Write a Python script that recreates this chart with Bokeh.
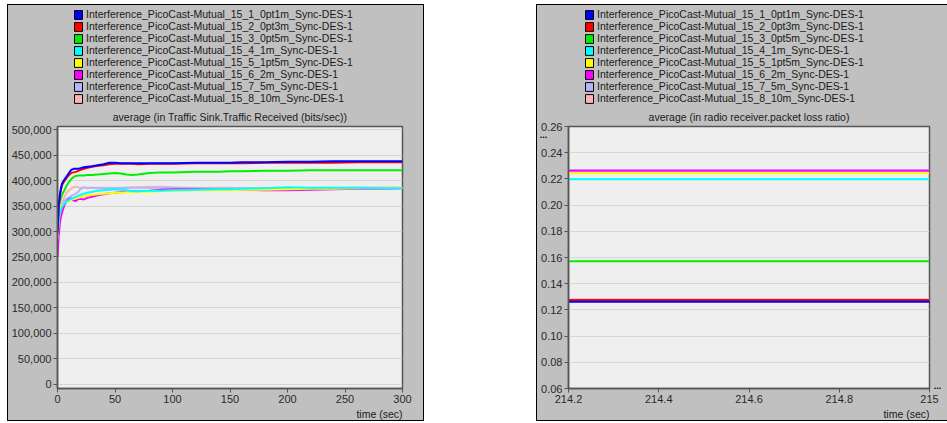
from bokeh.plotting import figure
from bokeh.models import (Range1d, FixedTicker, NumeralTickFormatter, Legend, LegendItem,
                          Title, ColumnDataSource, Spacer, Label)
from bokeh.layouts import row, column
from bokeh.embed import file_html
from bokeh.resources import INLINE

FONT = "Liberation Sans"

series_names = [
    "Interference_PicoCast-Mutual_15_1_0pt1m_Sync-DES-1",
    "Interference_PicoCast-Mutual_15_2_0pt3m_Sync-DES-1",
    "Interference_PicoCast-Mutual_15_3_0pt5m_Sync-DES-1",
    "Interference_PicoCast-Mutual_15_4_1m_Sync-DES-1",
    "Interference_PicoCast-Mutual_15_5_1pt5m_Sync-DES-1",
    "Interference_PicoCast-Mutual_15_6_2m_Sync-DES-1",
    "Interference_PicoCast-Mutual_15_7_5m_Sync-DES-1",
    "Interference_PicoCast-Mutual_15_8_10m_Sync-DES-1",
]
series_colors = ["#0000ff", "#ff0000", "#00ee00", "#00ffff",
                 "#ffff00", "#ff00ff", "#b4b4ff", "#ffb4b4"]

# ---- left chart: Traffic Received (kbit/s) ----
time_sec = [0, 1, 2, 3, 4, 6, 8, 10, 12, 14, 16, 18, 20, 23, 26, 30, 35, 40, 45, 50,
            55, 60, 65, 70, 80, 90, 100, 120, 140, 150, 160, 180, 200, 220, 240, 260, 280, 300]
recv_1 = [300, 350, 372, 385, 394, 402, 408, 415, 421, 423, 423, 423, 424, 426, 427, 428, 430, 432, 435, 435,
          434, 434, 434, 434, 434, 434, 434, 435, 435, 435, 436, 436, 437, 437, 438, 438, 438, 438]
recv_2 = [295, 345, 368, 382, 391, 399, 405, 411, 415, 416, 417, 419, 421, 423, 425, 427, 429, 430, 432, 433,
          433, 433, 433, 432, 433, 433, 433, 434, 434, 434, 434, 435, 435, 435, 435, 436, 436, 436]
recv_3 = [340, 350, 358, 365, 372, 381, 390, 397, 403, 407, 409, 410, 410, 410, 411, 411, 412, 413, 414, 415,
          414, 412, 411, 412, 415, 416, 416, 417, 417, 418, 418, 419, 419, 420, 420, 420, 420, 420]
recv_4 = [290, 318, 335, 343, 349, 355, 359, 362, 364, 366, 368, 370, 372, 374, 376, 378, 380, 381, 382, 383,
          382, 381, 379, 379, 380, 380, 381, 382, 383, 383, 384, 385, 387, 386, 386, 386, 385, 385]
recv_5 = [285, 320, 340, 348, 352, 356, 358, 360, 362, 364, 365, 366, 367, 369, 370, 372, 373, 374, 375, 376,
          376, 377, 377, 378, 378, 379, 380, 381, 381, 381, 382, 382, 383, 384, 384, 385, 385, 386]
recv_6 = [250, 290, 315, 330, 338, 352, 360, 364, 365, 361, 360, 364, 364, 363, 366, 368, 371, 373, 375, 376,
          377, 378, 379, 379, 380, 382, 383, 383, 382, 382, 382, 381, 381, 382, 383, 384, 384, 385]
recv_7 = [320, 335, 343, 350, 355, 360, 364, 367, 370, 372, 374, 378, 383, 387, 386, 386, 385, 385, 385, 385,
          385, 386, 386, 386, 386, 386, 386, 385, 385, 385, 385, 385, 385, 385, 385, 386, 386, 386]
recv_8 = [325, 335, 342, 350, 356, 368, 376, 381, 384, 387, 388, 387, 386, 386, 385, 386, 386, 386, 386, 386,
          386, 386, 387, 387, 388, 388, 387, 386, 386, 386, 385, 385, 385, 385, 385, 386, 386, 386]
recv_series_kbps = [recv_1, recv_2, recv_3, recv_4, recv_5, recv_6, recv_7, recv_8]
recv_yticks = [0, 50000, 100000, 150000, 200000, 250000, 300000, 350000, 400000, 450000, 500000]
recv_xticks = [0, 50, 100, 150, 200, 250, 300]

# ---- right chart: packet loss ratio ----
loss_time = [214.2, 215.0]
loss_values = [0.1262, 0.1276, 0.1572, 0.2197, 0.2244, 0.2262, 0.2268, 0.1280]
loss_yticks = [0.06, 0.08, 0.10, 0.12, 0.14, 0.16, 0.18, 0.20, 0.22, 0.24, 0.26]
loss_xticks = [214.2, 214.4, 214.6, 214.8, 215.0]

HEADER_H = 100
MAIN_H = 315
GRAY = "#c0c0c0"


def make_header(width, bl, br, legend_x):
    h = figure(width=width, height=HEADER_H, output_backend="svg", toolbar_location=None,
               title=None, x_range=Range1d(0, 1), y_range=Range1d(0, 1),
               x_axis_type=None, y_axis_type=None, min_border_left=bl, min_border_right=br,
               min_border_top=0, min_border_bottom=0)
    h.background_fill_color = GRAY
    h.border_fill_color = GRAY
    h.outline_line_color = None
    h.grid.visible = False
    items = []
    for name, color in zip(series_names, series_colors):
        # legend swatch proxy, kept outside the header's visible range
        r = h.quad(left=[-3], right=[-2], top=[-2], bottom=[-3], fill_color=color,
                   line_color="#000000", line_width=1)
        items.append(LegendItem(label=name, renderers=[r]))
    legend = Legend(items=items, location=(legend_x, HEADER_H - 3 - 96), orientation="vertical",
                    background_fill_alpha=0, border_line_color=None,
                    label_text_font=FONT, label_text_font_size="10.5px", label_text_color="#1a1a1a",
                    glyph_width=10, glyph_height=11, label_height=12, label_standoff=3,
                    spacing=0, padding=0, margin=0)
    h.add_layout(legend, "center")
    return h


def make_panel(width, bl, br, xr, yr, xticks, yticks, xfmt, yfmt, title_text):
    p = figure(width=width, height=MAIN_H, output_backend="svg", toolbar_location=None,
               title=None, x_range=Range1d(*xr), y_range=Range1d(*yr),
               min_border_left=bl, min_border_right=br, min_border_top=19, min_border_bottom=32)
    p.background_fill_color = "#efefef"
    p.border_fill_color = GRAY
    p.outline_line_color = "#555555"
    p.outline_line_width = 1.5
    p.xgrid.visible = False
    p.ygrid.grid_line_color = "#d6d6d6"
    p.ygrid.ticker = FixedTicker(ticks=yticks)
    p.xaxis.ticker = FixedTicker(ticks=xticks)
    p.yaxis.ticker = FixedTicker(ticks=yticks)
    p.xaxis.formatter = xfmt
    p.yaxis.formatter = yfmt
    for ax in (p.xaxis[0], p.yaxis[0]):
        ax.major_tick_in = 0
        ax.major_tick_out = 4
        ax.minor_tick_in = 0
        ax.minor_tick_out = 0
        ax.axis_line_color = "#555555"
        ax.axis_line_width = 1.5
        ax.major_tick_line_color = "#555555"
        ax.major_label_text_font = FONT
        ax.major_label_text_font_size = "11px"
        ax.major_label_text_color = "#2a2a2a"
        ax.major_label_standoff = 2
    p.add_layout(Title(text=title_text, align="center", text_font=FONT, text_font_size="10.5px",
                       text_font_style="normal", text_color="#1a1a1a", standoff=7), "above")
    p.add_layout(Title(text="time (sec)", align="right", text_font=FONT, text_font_size="10.5px",
                       text_font_style="normal", text_color="#1a1a1a", standoff=0), "below")
    return p


h1 = make_header(415, 49, 21, 16)
p1 = make_panel(415, 49, 21, (0, 300), (-8000, 506000), recv_xticks, recv_yticks,
                NumeralTickFormatter(format="0"), NumeralTickFormatter(format="0,0"),
                "average (in Traffic Sink.Traffic Received (bits/sec))")
for vals, color in reversed(list(zip(recv_series_kbps, series_colors))):
    src = ColumnDataSource(dict(t=time_sec, v=[x * 1000 for x in vals]))
    p1.line("t", "v", source=src, line_color=color, line_width=2)

h2 = make_header(410, 31, 18, 16)
p2 = make_panel(410, 31, 18, (214.2, 215.0), (0.06, 0.26), loss_xticks, loss_yticks,
                NumeralTickFormatter(format="0.[0]"), NumeralTickFormatter(format="0.00"),
                "average (in radio receiver.packet loss ratio)")
for val, color in reversed(list(zip(loss_values, series_colors))):
    src = ColumnDataSource(dict(t=loss_time, v=[val, val]))
    p2.line("t", "v", source=src, line_color=color, line_width=2)

# "more values" markers beyond the visible axis ranges (side panel: not clipped to frame)
p2.add_layout(Label(x=214.2, y=0.2532, x_offset=-25, text="...", text_font=FONT,
                    text_font_size="9px", text_font_style="bold", text_color="#000000",
                    text_align="center", text_baseline="middle"), "right")
p2.add_layout(Label(x=215.0, y=0.06, x_offset=8, text="...", text_font=FONT,
                    text_font_size="9px", text_font_style="bold", text_color="#000000",
                    text_align="center", text_baseline="bottom"), "right")

box_style = {"outline": "1px solid #000000", "outline-offset": "0px", "background-color": GRAY}
c1 = column(h1, p1, spacing=0, styles=box_style)
c2 = column(h2, p2, spacing=0, styles=box_style)
layout = column(Spacer(width=947, height=5),
                row(Spacer(width=8, height=HEADER_H + MAIN_H), c1,
                    Spacer(width=114, height=HEADER_H + MAIN_H), c2, spacing=0),
                spacing=0)
open("out.html", "w").write(file_html(layout, INLINE))
